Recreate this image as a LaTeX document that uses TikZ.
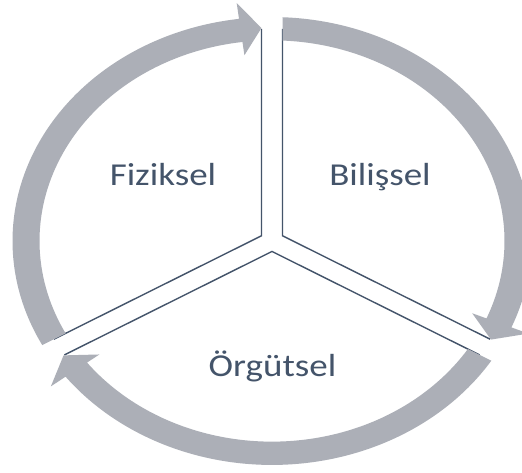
\documentclass[tikz,border=0pt]{standalone}
\usepackage{fontspec}
\setmainfont{Carlito}
\usepackage{graphicx}
\definecolor{ringgray}{RGB}{172,175,183}
\definecolor{slate}{RGB}{68,84,106}
\tikzset{
  band/.style={fill=ringgray, draw=none},
  divider/.style={draw=slate, line width=1.4pt, line join=miter},
  lbl/.style={text=slate, inner sep=0pt, font=\fontsize{37}{40}\selectfont}
}
\newcommand{\squash}[1]{\scalebox{1}[0.863]{#1}}
\begin{document}
\begin{tikzpicture}
  \useasboundingbox (0pt,0pt) rectangle (522pt,473pt);
  \fill[white] (0pt,0pt) rectangle (522pt,473pt);
  \clip (0pt,0pt) rectangle (522pt,473pt);

  % cycle drawn as a circle, flattened vertically
  \begin{scope}[shift={(272pt,232pt)}, x=1pt, y=0.863pt]
    % corners of the Y-shaped gap between the three sectors
    \coordinate (v1) at (150:12.12);
    \coordinate (v2) at (30:12.12);
    \coordinate (v3) at (270:12.12);
    % outer ends of the sector edges
    \coordinate (t1) at (92.45:246);
    \coordinate (t2) at (87.55:246);
    \coordinate (l1) at (207.55:246);
    \coordinate (l2) at (212.45:246);
    \coordinate (r1) at (-27.55:246);
    \coordinate (r2) at (-32.45:246);

    \draw[divider] (t1) -- (v1) -- (l1);
    \draw[divider] (t2) -- (v2) -- (r1);
    \draw[divider] (l2) -- (v3) -- (r2);

    % left arrow: lower left up to the top
    \fill[band] (207.68:259.5) arc[start angle=207.68, end angle=97.3, radius=259.5]
      -- (97.3:278) -- (92.45:247) -- (97.3:217) -- (97.3:232.5)
      arc[start angle=97.3, end angle=207.41, radius=232.5] -- cycle;
    % right arrow: top down to the lower right
    \fill[band] (87.68:259.5) arc[start angle=87.68, end angle=-22.7, radius=259.5]
      -- (-22.7:278) -- (-27.55:247) -- (-22.7:217) -- (-22.7:232.5)
      arc[start angle=-22.7, end angle=87.41, radius=232.5] -- cycle;
    % bottom arrow: lower right round to the lower left
    \fill[band] (-32.32:259.5) arc[start angle=-32.32, end angle=-142.7, radius=259.5]
      -- (-142.7:278) -- (-147.55:247) -- (-142.7:217) -- (-142.7:232.5)
      arc[start angle=-142.7, end angle=-32.59, radius=232.5] -- cycle;
  \end{scope}

  \node[lbl, anchor=base] (fiziksel) at (163pt,287pt) {\squash{Fiziksel}};
  \node[lbl, anchor=base] (bilissel) at (380pt,287pt) {\squash{Bilişsel}};
  \node[lbl, anchor=base] (orgutsel) at (272.5pt,96pt) {\squash{Örgütsel}};
\end{tikzpicture}
\end{document}
